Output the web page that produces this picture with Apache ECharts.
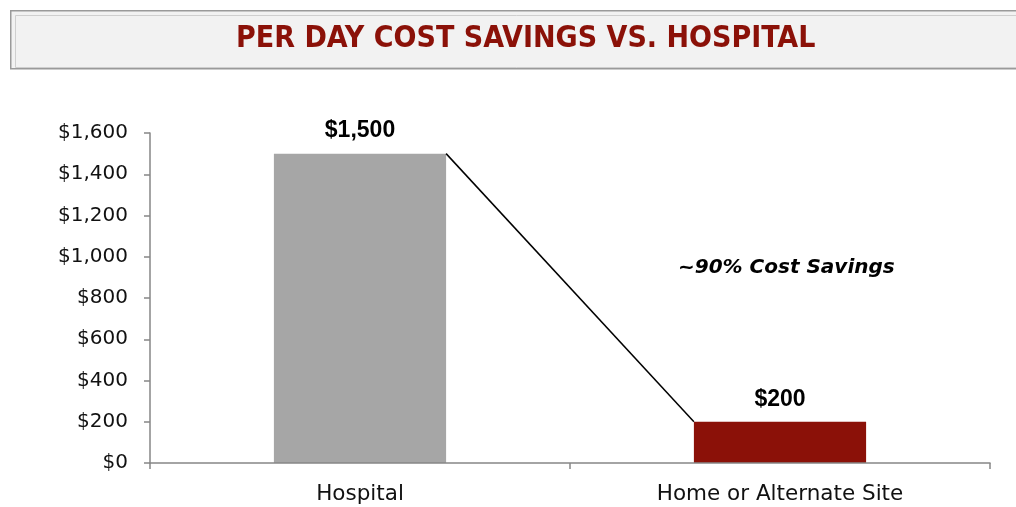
<!DOCTYPE html>
<html>
<head>
<meta charset="UTF-8">
<title>Per Day Cost Savings vs. Hospital</title>
<script src="https://cdn.jsdelivr.net/npm/echarts@6/dist/echarts.min.js"></script>
<style>
  html, body { margin: 0; padding: 0; background: #fff; }
  #main { width: 1016px; height: 507px; }
</style>
</head>
<body>
<div id="main"></div>
<script type="text/javascript">
// chart data
var categories = ['Hospital', 'Home or Alternate Site'];
var costPerDay = [1500, 200];
var barColors = ['#a6a6a6', '#8b1108'];
var yTicks = [0, 200, 400, 600, 800, 1000, 1200, 1400, 1600];
var titleText = 'PER DAY COST SAVINGS VS. HOSPITAL';
var noteText = '~90% Cost Savings';

var BAR_RATIO = 0.41;

function money(v) {
  return '$' + v.toString().replace(/\B(?=(\d{3})+(?!\d))/g, ',');
}

var myChart = echarts.init(document.getElementById('main'));
myChart.setOption({
  backgroundColor: '#ffffff',
  animation: false,
  graphic: [
    // title box
    {
      type: 'rect', left: 10, top: 10, z: 0,
      shape: { width: 1020, height: 58 },
      style: { fill: '#f2f2f2', stroke: '#9a9a9a', lineWidth: 1.5 }
    },
    {
      type: 'rect', left: 13, top: 13, z: 1,
      shape: { width: 1020, height: 52 },
      style: { fill: 'none', stroke: '#cfcfcf', lineWidth: 1 }
    },
    {
      type: 'text', left: 236, top: 24, z: 2,
      style: {
        text: titleText,
        fill: '#8b1108',
        font: 'bold 30px "DejaVu Sans Condensed", "Liberation Sans Narrow", "DejaVu Sans", sans-serif'
      }
    },
    {
      type: 'text', left: 678, top: 258, z: 5,
      style: {
        text: noteText,
        fill: '#000',
        font: 'italic bold 20px "DejaVu Sans", sans-serif'
      }
    }
  ],
  grid: { left: 150, right: 26, top: 133, bottom: 44 },
  xAxis: {
    type: 'category',
    data: categories,
    z: 3,
    axisLine: { lineStyle: { color: '#868686', width: 1.5 } },
    axisTick: { show: true, length: 6, lineStyle: { color: '#868686', width: 1.5 } },
    axisLabel: {
      color: '#111', fontSize: 21.5, margin: 20,
      fontFamily: '"DejaVu Sans", sans-serif'
    },
    splitLine: { show: false }
  },
  yAxis: {
    type: 'value',
    min: yTicks[0],
    max: yTicks[yTicks.length - 1],
    interval: yTicks[1] - yTicks[0],
    axisLine: { show: true, lineStyle: { color: '#868686', width: 1.5 } },
    axisTick: { show: true, length: 6, lineStyle: { color: '#868686', width: 1.5 } },
    axisLabel: {
      color: '#111', fontSize: 20, margin: 22,
      fontFamily: '"DejaVu Sans", sans-serif',
      formatter: money
    },
    splitLine: { show: false }
  },
  series: [
    {
      type: 'bar',
      barWidth: (BAR_RATIO * 100) + '%',
      data: costPerDay.map(function(v, i) {
        return { value: v, itemStyle: { color: barColors[i] } };
      }),
      label: {
        show: true,
        position: 'top',
        distance: 11,
        color: '#000',
        fontSize: 23,
        fontWeight: 'bold',
        fontFamily: '"Liberation Sans", Arial, sans-serif',
        formatter: function(p) { return money(p.value); }
      }
    },
    {
      // connector from top-right of first bar to top-left of second bar
      type: 'custom',
      data: [[0, costPerDay[0], 1, costPerDay[1]]],
      renderItem: function(params, api) {
        var p1 = api.coord([api.value(0), api.value(1)]);
        var p2 = api.coord([api.value(2), api.value(3)]);
        var half = api.size([1, 0])[0] * BAR_RATIO / 2;
        return {
          type: 'line',
          shape: { x1: p1[0] + half, y1: p1[1], x2: p2[0] - half, y2: p2[1] },
          style: { stroke: '#000', lineWidth: 1.5 }
        };
      },
      z: 3
    }
  ]
});
</script>
</body>
</html>
